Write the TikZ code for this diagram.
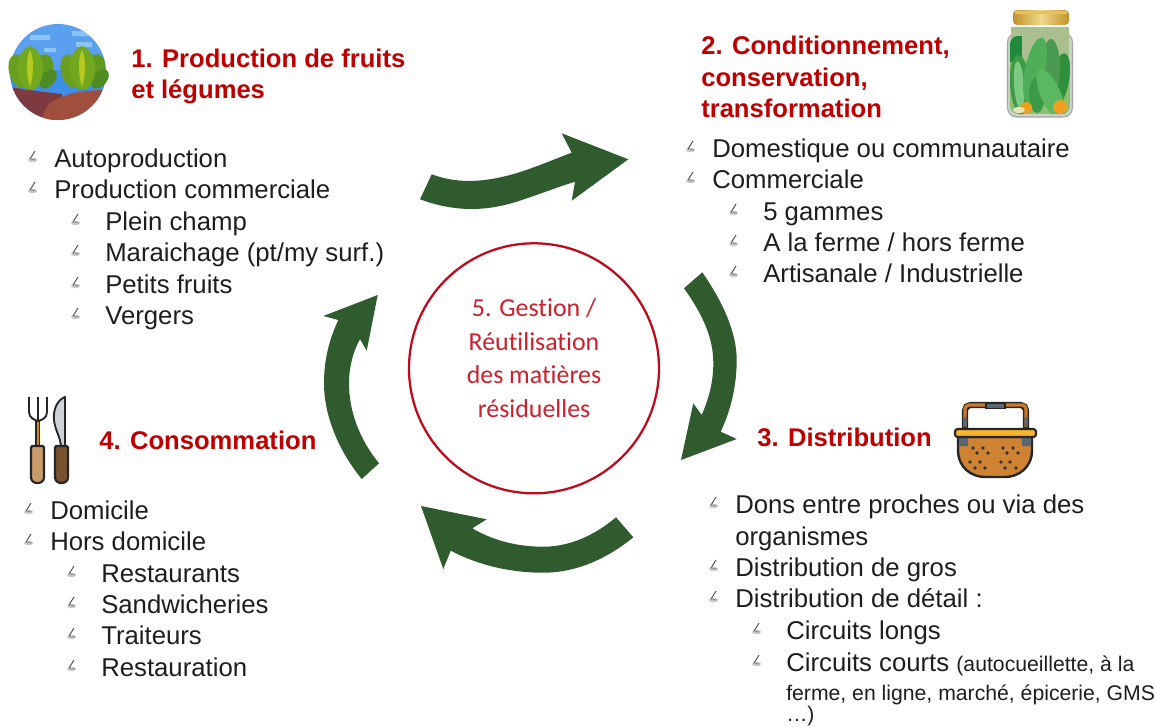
\documentclass[tikz,border=0pt]{standalone}
\usepackage{fontspec}
\setmainfont{Liberation Sans}
\newfontfamily\centrefont[Ligatures=NoCommon]{Carlito}
\definecolor{titlered}{HTML}{C00000}
\definecolor{bodyink}{HTML}{1E1E1E}
\definecolor{arrowgreen}{HTML}{2F5B2E}
\definecolor{ringred}{HTML}{BE0A1E}
\definecolor{mgmt}{HTML}{CC2030}
\definecolor{lidgold}{HTML}{C2922A}
\definecolor{lidlight}{HTML}{F0D78A}
\tikzset{
  x=0.75pt,y=-0.75pt,
  hx/.code={\definecolor{tmpfill}{HTML}{#1}\pgfkeysalso{fill=tmpfill}},
  hxd/.code={\definecolor{tmpdraw}{HTML}{#1}\pgfkeysalso{draw=tmpdraw}},
  title/.style={anchor=base west,inner sep=0pt,text=titlered,font=\fontsize{19.2}{23}\selectfont\bfseries},
  entry/.style={anchor=base west,inner sep=0pt,text=bodyink,font=\fontsize{19.3}{23}\selectfont},
  smallentry/.style={entry,font=\fontsize{15.9}{19}\selectfont},
  blockarrow/.style={fill=arrowgreen,draw=none},
  tickmark/.pic={
    \fill[black!22] (0.5,3) ellipse [x radius=4.5,y radius=2.2];
    \draw[black!70,line width=0.7pt] (3,-6) -- (-2,2);
    \draw[black!45,line width=0.6pt] (-2,2) -- (4,3);
  },
  mid/.style={anchor=base,inner sep=0pt,text=mgmt,font=\centrefont\fontsize{19.4}{22}\selectfont},
}
\newcommand{\main}[4]{\path (#2-22,#3-10) pic {tickmark}; \node[entry] (#1) at (#2,#3) {#4};}
\newcommand{\subi}[4]{\path (#2-30,#3-10) pic {tickmark}; \node[entry] (#1) at (#2,#3) {#4};}
\begin{document}
\begin{tikzpicture}
\path[use as bounding box] (0,0) rectangle (1155,726);
\clip (0,0) rectangle (1155,726);
\fill[white] (0,0) rectangle (1155,726);

% --- block arrows
\fill[blockarrow] (420,199.3) -- (431.7,174.3) .. controls (455,183) and (480,183) .. (510,175) .. controls (532,169) and (552,160) .. (571.7,152.7)
  -- (561.7,133.3) -- (628.3,159.3) -- (571.7,200.7) -- (575,181.7)
  .. controls (555,188) and (540,194) .. (526.7,198.3) .. controls (500,208) and (465,216) .. (420,199.3) -- cycle;
\fill[blockarrow] (684,288.3) -- (702.3,272.3) .. controls (725,305) and (736.7,335) .. (736.7,360) .. controls (736.7,385) and (731,410) .. (720.7,431.7)
  -- (736.7,439) -- (681,460) -- (693.3,403.3) -- (701.7,415)
  .. controls (709,398) and (713.3,382) .. (713.3,363) .. controls (713.3,338) and (703,315) .. (684,288.3) -- cycle;
\fill[blockarrow] (616,517.3) -- (633.3,537.3) .. controls (608,558) and (577,572.7) .. (543.3,572.7) .. controls (510,572.7) and (478,565) .. (450.7,550.7)
  -- (443.3,569) -- (421,506) -- (486.7,519.3) -- (472.3,528.3)
  .. controls (494,541) and (518,546.7) .. (543.3,546.7) .. controls (570,546.7) and (595,535) .. (616,517.3) -- cycle;
\fill[blockarrow] (379,463.3) -- (361.7,479) .. controls (338,450) and (324,415) .. (324,383.3) .. controls (324,360) and (329,340) .. (338.3,320)
  -- (323.3,316) -- (377.7,295) -- (366.7,350.7) -- (360,339)
  .. controls (353,352) and (349,367) .. (349,383.3) .. controls (349,412) and (360,440) .. (379,463.3) -- cycle;

% --- centre ring
\node[circle,draw=ringred,line width=1.7pt,minimum size=187.5pt,inner sep=0pt] (ring) at (534,368.3) {};
\node[mid] (m1) at (534,316.7) {5. Gestion /};
\node[mid] (m2) at (534,350) {Réutilisation};
\node[mid] (m3) at (534,383.5) {des matières};
\node[mid] (m4) at (534,417.7) {résiduelles};

% --- titles
\node[title] (t1a) at (131,67) {1. Production de fruits};
\node[title] (t1b) at (131,98) {et légumes};
\node[title] (t2a) at (701,54) {2. Conditionnement,};
\node[title] (t2b) at (701,86) {conservation,};
\node[title] (t2c) at (701,117) {transformation};
\node[title] (t3) at (757,446) {3. Distribution};
\node[title] (t4) at (99,449) {4. Consommation};

% --- list 1
\main{a1}{54}{167}{Autoproduction}
\main{a2}{54}{198}{Production commerciale}
\subi{a3}{105}{230}{Plein champ}
\subi{a4}{105}{261}{Maraichage (pt/my surf.)}
\subi{a5}{105}{293}{Petits fruits}
\subi{a6}{105}{324}{Vergers}
% --- list 2
\main{b1}{712}{157}{Domestique ou communautaire}
\main{b2}{712}{188}{Commerciale}
\subi{b3}{763}{220}{5 gammes}
\subi{b4}{763}{251}{A la ferme / hors ferme}
\subi{b5}{763}{282}{Artisanale / Industrielle}
% --- list 3
\main{c1}{735}{513}{Dons entre proches ou via des}
\node[entry] (c1b) at (735,545) {organismes};
\main{c2}{735}{576}{Distribution de gros}
\main{c3}{735}{607}{Distribution de détail :}
\subi{c4}{786}{639}{Circuits longs}
\subi{c5}{786}{671}{Circuits courts {\fontsize{15.9}{19}\selectfont (autocueillette, à la}}
\node[smallentry] (c5b) at (786,700) {ferme, en ligne, marché, épicerie, GMS};
\node[smallentry] (c5c) at (786,721) {…)};
% --- list 4
\main{d1}{50}{519}{Domicile}
\main{d2}{50}{550}{Hors domicile}
\subi{d3}{101}{582}{Restaurants}
\subi{d4}{101}{613}{Sandwicheries}
\subi{d5}{101}{644}{Traiteurs}
\subi{d6}{101}{676}{Restauration}

% --- icon 1: field
\begin{scope}
  \clip (58,72) circle [radius=48];
  \fill[hx=5AA0EE] (0,20) rectangle (110,125);
  \fill[hx=3F8FE8] (10,70) rectangle (110,100);
  \fill[hx=8CC4F8] (30,35) rectangle +(20,5) (72,31) rectangle +(18,5) (76,42) rectangle +(16,5) (44,48) rectangle +(12,4);
  \fill[hx=7E3A3E] (5,86) .. controls (25,90) and (45,92) .. (62,94) -- (62,125) -- (5,125) -- cycle;
  \fill[hx=A04F3C] (110,90) .. controls (85,90) and (70,92) .. (55,100) .. controls (46,105) and (42,112) .. (42,125) -- (110,125) -- cycle;
\end{scope}
\foreach \cx in {30,82}{
  \begin{scope}[shift={(\cx,0)}]
    \fill[hx=6B9E1E,rotate around={14:(-11,71)}] (-11,71) ellipse [x radius=10,y radius=17];
    \fill[hx=5E9A1E,rotate around={-14:(13,68)}] (13,68) ellipse [x radius=10,y radius=14];
    \fill[hx=4E8C23,rotate around={-40:(18,79)}] (18,79) ellipse [x radius=7,y radius=11];
    \fill[hx=72A81F] (0,46) .. controls (-17,52) and (-15,80) .. (-3,89) -- (5,89) .. controls (16,80) and (17,52) .. (0,46) -- cycle;
    \fill[hx=B7C91F] (0,50) .. controls (-5,60) and (-3,78) .. (0,87) .. controls (3,78) and (5,60) .. (0,50) -- cycle;
  \end{scope}
}

% --- icon 2: jar
\fill[hx=C9D3C6,draw=black!35,line width=0.8pt,rounded corners=7pt] (1007.5,33) rectangle (1072.5,117);
\fill[hx=A9C08E] (1011,27) rectangle (1069,60);
\begin{scope}
  \clip[rounded corners=6pt] (1010,36) rectangle (1070,114);
  \fill[hx=8FBF70] (1010,60) rectangle (1070,114);
  \fill[hx=1E8A3A] (1010,34) rectangle (1022,62);
  \fill[hx=2F8F3C,rotate around={-10:(1060,80)}] (1060,80) ellipse [x radius=9,y radius=27];
  \fill[hx=4A9A50] (1051,68) ellipse [x radius=9,y radius=29];
  \fill[hx=3F9A4A,rotate around={4:(1020,85)}] (1020,85) ellipse [x radius=10,y radius=30];
  \fill[hx=7CCB80,rotate around={4:(1019,85)}] (1019,85) ellipse [x radius=5,y radius=24];
  \fill[hx=4FAE58,rotate around={-12:(1035,70)}] (1035,70) ellipse [x radius=10,y radius=33];
  \fill[hx=3C9A46] (1037,95) ellipse [x radius=8,y radius=18];
  \fill[hx=5AB860,rotate around={24:(1051,95)}] (1051,95) ellipse [x radius=10,y radius=28];
  \fill[hx=F0A020] (1026,108) circle [radius=6];
  \fill[hx=F0A020] (1060,107) circle [radius=7];
  \fill[hx=E8E2B8] (1019,110) ellipse [x radius=6,y radius=3];
\end{scope}
\shade[left color=lidgold,right color=lidgold,middle color=lidlight,rounded corners=3pt] (1013,10) rectangle (1069,25);
\fill[hx=E5C25E] (1015,11) rectangle (1067,14);

% --- icon 3: basket
\draw[black!85,line width=4.6pt,rounded corners=4pt] (965,430) -- (965,405) -- (1026,405) -- (1026,430);
\draw[hxd=C97A2B,line width=2.4pt,rounded corners=3pt] (965,427) -- (965,405) -- (1026,405) -- (1026,427);
\fill[hx=5A6672,draw=black!85,line width=0.8pt] (986,403) rectangle (1005,408.5);
\fill[hx=5A6672] (963.5,417) rectangle (966.5,427) (1024.5,417) rectangle (1027.5,427);
\fill[hx=CE8232,draw=black!85,line width=1.8pt] (958,437) -- (1032,437) -- (1032,450) .. controls (1032,468) and (1018,477) .. (1005,477) -- (985,477) .. controls (972,477) and (958,468) .. (958,450) -- cycle;
\fill[hx=5A6672] (958.8,438) -- (968,438) -- (968,446) -- (958.8,446) -- cycle (1022,438) -- (1031.2,438) -- (1031.2,446) -- (1022,446) -- cycle;
\fill[hx=F6B42C,draw=black!85,line width=1.6pt,rounded corners=2pt] (955,429) rectangle (1036,437);
\foreach \dx/\dy in {973/448,983/448,977/453,988/453,970/462,980/462,975/468,985/468,1003/448,1013/448,1007/453,1018/453,1001/462,1010/462,1005/468,1016/468}
  \fill[black!80] (\dx,\dy) circle [radius=1.8];

% --- icon 4: cutlery
\draw[black!85,line width=1.4pt,line join=round] (29,397) -- (29,412) .. controls (29,418) and (35,420) .. (38,421) .. controls (42,420) and (47,418) .. (47,412) -- (47,397);
\draw[black!85,line width=1.4pt] (38,397) -- (38,421);
\fill[hx=D98A12,draw=black!85,line width=1.2pt] (36,421) rectangle (39.5,446);
\fill[hx=C89B6A,draw=black!85,line width=1.6pt,rounded corners=1pt] (31,446) -- (44,446) -- (44,476) .. controls (44,485) and (31,485) .. (31,476) -- cycle;
\fill[hx=CDD3D8,draw=black!85,line width=1.4pt,line join=round] (65,397) .. controls (57,400) and (53,410) .. (54,420) .. controls (55,430) and (60,436) .. (61,446) -- (65,446) -- cycle;
\fill[hx=7A5230,draw=black!85,line width=1.6pt,rounded corners=1pt] (55,446) -- (68,446) -- (68,476) .. controls (68,485) and (55,485) .. (55,476) -- cycle;
\end{tikzpicture}
\end{document}
